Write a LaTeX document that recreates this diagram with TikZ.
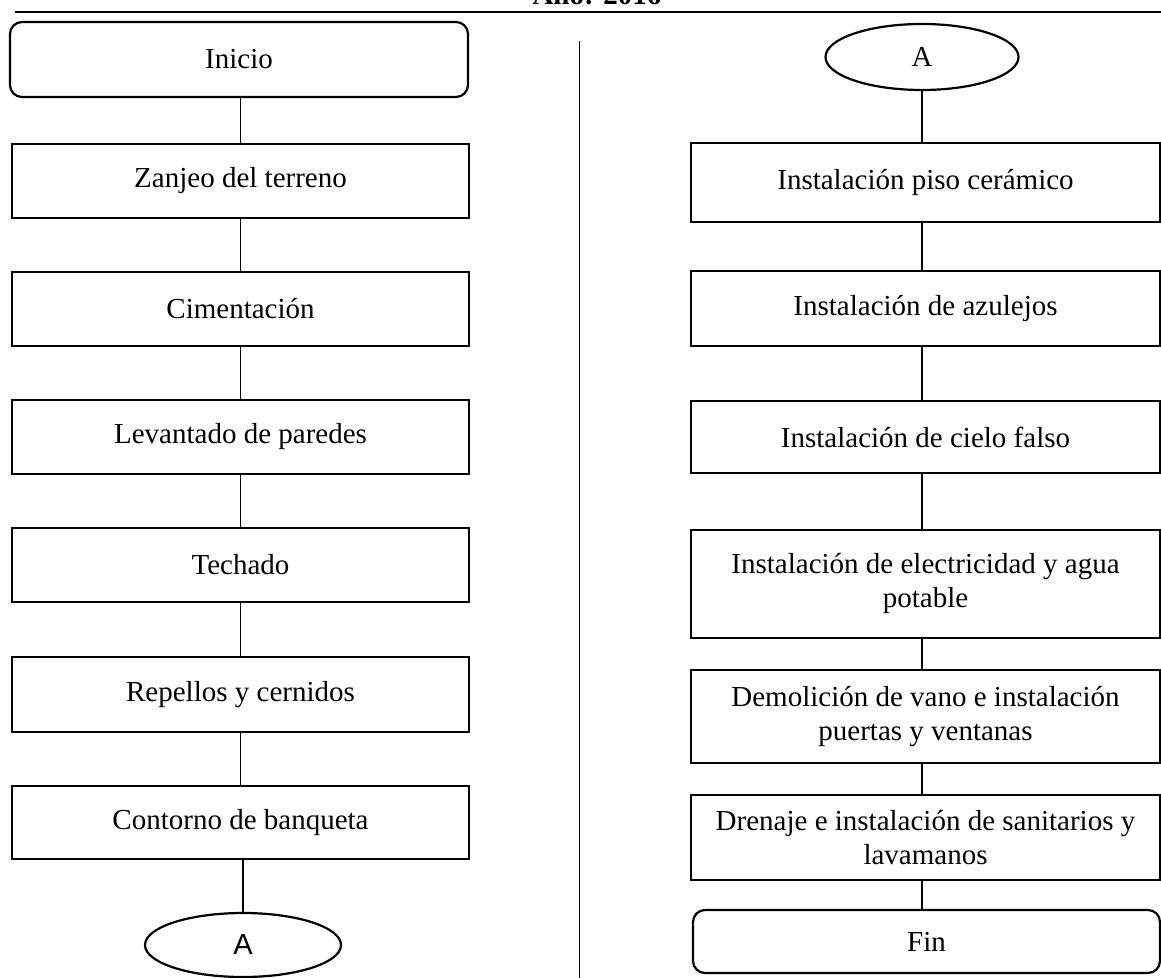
\documentclass[tikz,border=0pt]{standalone}
\usepackage{fontspec}
\setmainfont{Liberation Serif}
\setsansfont{Liberation Sans}
\usepackage{tikz}
\usetikzlibrary{shapes}

\begin{document}
\begin{tikzpicture}[x=0.5pt, y=-0.5pt,
  paso/.style={draw, line width=1.1pt, inner sep=0pt, align=center,
    font=\fontsize{14.5}{17}\selectfont},
  pasoL/.style={paso, minimum width=228.5pt, minimum height=37pt},
  pasoR/.style={paso, minimum width=234.5pt},
  extremo/.style={paso, rounded corners=6pt},
  conector/.style={draw, ellipse, line width=1.1pt, inner sep=0pt,
    font=\fontsize{14.5}{17}\selectfont},
  linea/.style={draw, line width=0.8pt}]
 \useasboundingbox (0,0) rectangle (1161,978);

 %encabezado
 \node[anchor=base, font=\fontsize{14.5}{17}\selectfont\bfseries] (anio) at (597,5) {Año: 2016};
 \draw[line width=0.8pt] (15,12) -- (1161,12);
 \draw[line width=0.5pt] (579,41) -- (579,978);

 %columna 1
 \node[extremo, minimum width=229pt, minimum height=37.5pt] (c10) at (239,59.5) {\raisebox{-3.5pt}{Inicio}};
 \node[pasoL] (c11) at (240.5,181) {Zanjeo del terreno};
 \node[pasoL] (c12) at (240.5,309) {Cimentación};
 \node[pasoL] (c13) at (240.5,437) {Levantado de paredes};
 \node[pasoL] (c14) at (240.5,565) {Techado};
 \node[pasoL, minimum height=37.5pt] (c15) at (240.5,694.5) {Repellos y cernidos};
 \node[pasoL, minimum height=36.5pt] (c16) at (240.5,822.5) {Contorno de banqueta};
 \node[conector, minimum width=98pt, minimum height=32pt, font=\fontsize{14.5}{17}\sffamily] (c17) at (243,945) {A};

 %columna 2
 \node[conector, minimum width=96.5pt, minimum height=33pt] (c20) at (922,57) {\raisebox{-2pt}{A}};
 \node[pasoR, minimum height=39.5pt] (c21) at (925.5,182.5) {Instalación piso cerámico};
 \node[pasoR, minimum height=37.5pt] (c22) at (925.5,308.5) {Instalación de azulejos};
 \node[pasoR, minimum height=36pt] (c23) at (925.5,437) {Instalación de cielo falso};
 \node[pasoR, minimum height=54pt] (c24) at (925.5,584) {Instalación de electricidad y agua\\potable};
 \node[pasoR, minimum height=46.5pt] (c25) at (925.5,716.5) {Demolición de vano e instalación\\puertas y ventanas};
 \node[pasoR, minimum height=42.5pt] (c26) at (925.5,837.5) {Drenaje e instalación de sanitarios y\\lavamanos};
 \node[extremo, minimum width=233.5pt, minimum height=31.5pt] (c27) at (926.5,941.5) {Fin};

 %lineas
 \path[linea] (c11.north) -- (c11.north |- c10.south);
 \path[linea] (c11.south) -- (c12.north);
 \path[linea] (c12.south) -- (c13.north);
 \path[linea] (c13.south) -- (c14.north);
 \path[linea] (c14.south) -- (c15.north);
 \path[linea] (c15.south) -- (c16.north);
 \path[linea] (c17.north |- c16.south) -- (c17.north);

 \path[linea] (c20.south) -- (c20.south |- c21.north);
 \path[linea] (c20.south |- c21.south) -- (c20.south |- c22.north);
 \path[linea] (c20.south |- c22.south) -- (c20.south |- c23.north);
 \path[linea] (c20.south |- c23.south) -- (c20.south |- c24.north);
 \path[linea] (c20.south |- c24.south) -- (c20.south |- c25.north);
 \path[linea] (c20.south |- c25.south) -- (c20.south |- c26.north);
 \path[linea] (c20.south |- c26.south) -- (c20.south |- c27.north);

\end{tikzpicture}
\end{document}
